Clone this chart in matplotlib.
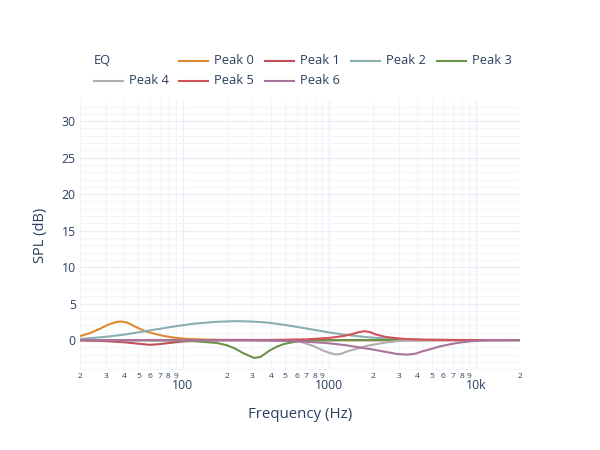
import matplotlib
matplotlib.use("Agg")
import matplotlib.pyplot as plt
from matplotlib.lines import Line2D
from matplotlib.ticker import FixedLocator, FixedFormatter

plt.rcParams['font.family'] = ['Open Sans', 'DejaVu Sans']

# EQ peak curves (frequency in Hz, gain in dB)
f0 = [20, 23, 27, 31, 35, 38, 42, 48, 56, 65, 75, 90, 110, 140, 200, 400, 1000, 20000]
v0 = [0.55, 0.9, 1.5, 2.1, 2.45, 2.55, 2.4, 1.8, 1.2, 0.85, 0.55, 0.3, 0.15, 0.07, 0.02, 0.0, 0.0, 0.0]

f1 = [20, 30, 40, 50, 60, 70, 85, 100, 130, 200, 20000]
v1 = [-0.05, -0.15, -0.3, -0.5, -0.65, -0.55, -0.35, -0.2, -0.08, -0.02, 0.0]

f2 = [20, 30, 40, 53, 70, 90, 120, 170, 230, 290, 380, 490, 650, 820, 1000, 1260, 1800, 2500, 4000, 8000, 20000]
v2 = [0.15, 0.45, 0.75, 1.15, 1.55, 1.9, 2.25, 2.5, 2.6, 2.55, 2.4, 2.1, 1.7, 1.35, 1.05, 0.75, 0.4, 0.2, 0.06, 0.01, 0.0]

f3 = [20, 80, 120, 172, 200, 225, 260, 308, 340, 395, 440, 490, 560, 630, 800, 1200, 20000]
v3 = [0.0, -0.05, -0.15, -0.4, -0.7, -1.1, -1.8, -2.45, -2.3, -1.4, -0.9, -0.55, -0.3, -0.15, -0.05, 0.0, 0.0]

f4 = [20, 300, 500, 630, 780, 900, 1000, 1100, 1200, 1350, 1600, 1800, 2400, 3000, 5000, 20000]
v4 = [0.0, -0.02, -0.08, -0.2, -0.8, -1.4, -1.75, -1.95, -1.9, -1.5, -1.1, -0.8, -0.35, -0.12, 0.0, 0.0]

f5 = [20, 400, 700, 1000, 1250, 1450, 1600, 1750, 1900, 2100, 2400, 2800, 3300, 4500, 8000, 20000]
v5 = [0.0, 0.02, 0.1, 0.3, 0.55, 0.85, 1.1, 1.22, 1.1, 0.75, 0.45, 0.28, 0.15, 0.05, 0.0, 0.0]

f6 = [20, 300, 600, 950, 1300, 1600, 2000, 2400, 2900, 3400, 3900, 4300, 5000, 5600, 6400, 7200, 8200, 9300, 12000, 20000]
v6 = [0.0, -0.03, -0.15, -0.4, -0.7, -1.0, -1.3, -1.6, -1.9, -2.0, -1.85, -1.55, -1.2, -0.9, -0.65, -0.45, -0.28, -0.15, -0.03, 0.0]

names = ['Peak 0', 'Peak 1', 'Peak 2', 'Peak 3', 'Peak 4', 'Peak 5', 'Peak 6']
colors = ['#dc8a32', '#c0505a', '#8aafae', '#6b9348', '#b3adad', '#d2525a', '#a8739c']
freqs = [f0, f1, f2, f3, f4, f5, f6]
gains = [v0, v1, v2, v3, v4, v5, v6]

major_x = [100, 1000, 10000]
major_lab = ['100', '1000', '10k']
minor_x = [m * d for d in (10, 100, 1000) for m in range(2, 10)] + [20000]
minor_lab = [str(m) for d in (10, 100, 1000) for m in range(2, 10)] + ['2']

txt = '#2a3f5f'
W, H = 600, 450

fig = plt.figure(figsize=(6, 4.5), dpi=100)
ax = fig.add_axes([80 / W, 1 - 370 / H, 440 / W, 270 / H])

for f, v, c in zip(freqs, gains, colors):
    ax.plot(f, v, color=c, lw=1.5, solid_capstyle='round')

ax.set_xscale('log')
ax.set_xlim(20, 20000)
ax.set_ylim(-4.1, 32.9)

ax.xaxis.set_major_locator(FixedLocator(major_x))
ax.xaxis.set_major_formatter(FixedFormatter(major_lab))
ax.xaxis.set_minor_locator(FixedLocator(minor_x))
ax.xaxis.set_minor_formatter(FixedFormatter(minor_lab))
ax.set_yticks([0, 5, 10, 15, 20, 25, 30])
ax.set_yticks(range(-4, 33), minor=True)

ax.tick_params(axis='x', which='major', length=0, pad=6.5, labelsize=8.8, labelcolor=txt)
ax.tick_params(axis='x', which='minor', length=0, pad=2.5, labelsize=6, labelcolor=txt)
ax.tick_params(axis='y', which='both', length=0, pad=3, labelsize=8.8, labelcolor=txt)
# plotly nudges the decade labels a little right
for lab in ax.xaxis.get_majorticklabels():
    lab.set_x(lab.get_position()[0])

ax.grid(True, which='major', color='#ebf0f8', lw=1)
ax.grid(True, which='minor', color='#f2f5fa', lw=0.8)
ax.set_axisbelow(True)
for s in ax.spines.values():
    s.set_visible(False)

ax.set_xlabel('Frequency (Hz)', fontsize=10.8, color=txt, labelpad=11)
ax.set_ylabel('SPL (dB)', fontsize=10.5, color=txt, labelpad=10)

# legend drawn by hand to match the two-row layout
fig.text(94 / W, 1 - 61 / H, 'EQ', fontsize=9.3, color=txt, va='center', ha='left')
slots = [(179, 61), (265, 61), (351, 61), (437, 61), (94, 81), (179, 81), (265, 81)]
for (x0, y), name, c in zip(slots, names, colors):
    yy = 1 - y / H
    fig.add_artist(Line2D([x0 / W, (x0 + 29) / W], [yy, yy], color=c, lw=1.5,
                          transform=fig.transFigure))
    fig.text((x0 + 35) / W, yy, name, fontsize=9.3, color=txt, va='center', ha='left')

fig.savefig('out.png', dpi=100)
